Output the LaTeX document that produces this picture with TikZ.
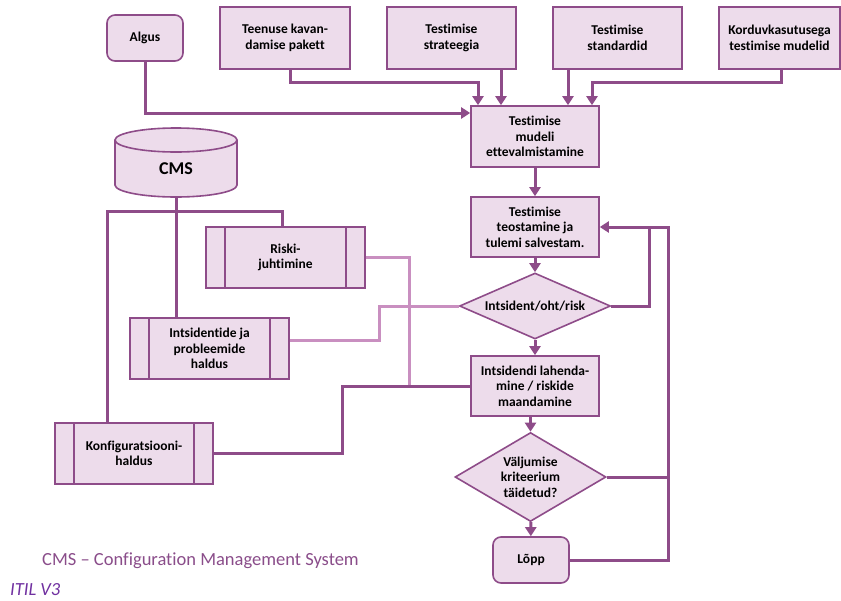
\documentclass[tikz,border=0pt]{standalone}
\usepackage{fontspec}
\setmainfont{Carlito}[Ligatures=NoCommon]
\usetikzlibrary{shapes.geometric,arrows.meta,calc}
\definecolor{lineC}{HTML}{8E4C89}
\definecolor{fillC}{HTML}{EDDCEB}
\definecolor{lightC}{HTML}{C98FC0}
\definecolor{noteC}{HTML}{8A4D8A}
\definecolor{itilC}{HTML}{7030A0}
\begin{document}
\begin{tikzpicture}[x=1pt,y=-1pt,
  base/.style={draw=lineC,fill=fillC,line width=1.6pt,inner sep=0pt,align=center,
    font=\fontsize{13.5}{15.5}\selectfont\bfseries},
  box/.style={base,rectangle},
  term/.style={base,rectangle,rounded corners=8pt,minimum width=76pt,minimum height=46pt},
  decide/.style={base,diamond},
  sub/.style={base,rectangle,minimum height=61pt},
  conn/.style={draw=lineC,line width=3pt},
  arr/.style={conn,-{Triangle[length=9pt,width=11pt]}},
  light/.style={draw=lightC,line width=3pt}]
\useasboundingbox (0,0) rectangle (841,600);

% input boxes
\node[term] (algus) at (145,38) {Algus};
\node[box,minimum width=130pt,minimum height=62pt] (teenus) at (285,38) {Teenuse kavan-\\damise pakett};
\node[box,minimum width=129pt,minimum height=62pt] (strat) at (451.5,38) {Testimise\\strateegia};
\node[box,minimum width=129pt,minimum height=62pt] (stand) at (617.5,38) {Testimise\\standardid};
\node[box,minimum width=121pt,minimum height=62pt] (kordu) at (779.5,38) {Korduvkasutusega\\testimise mudelid};

% main flow
\node[box,minimum width=128pt,minimum height=61pt] (mudel) at (535,136.5) {Testimise\\mudeli\\ettevalmistamine};
\node[box,minimum width=128pt,minimum height=60pt] (teost) at (535,227) {Testimise\\teostamine ja\\tulemi salvestam.};
\node[decide,aspect=2.29,minimum width=151pt,minimum height=66pt] (intsd) at (535,306) {Intsident/oht/risk};
\node[box,minimum width=128pt,minimum height=60pt] (lahend) at (535,386) {Intsidendi lahenda-\\mine / riskide\\maandamine};
\node[decide,aspect=1.7,minimum width=151pt,minimum height=89pt] (valj) at (530.5,477) {Väljumise\\kriteerium\\täidetud?};
\node[term] (lopp) at (531,560) {Lõpp};

% configuration management database
\fill[fillC] (115,140) -- (115,185) arc[start angle=180,end angle=360,x radius=61pt,y radius=12pt]
  -- (237,140) arc[start angle=0,end angle=180,x radius=61pt,y radius=12pt] -- cycle;
\draw[lineC,line width=1.6pt] (115,140) -- (115,185) arc[start angle=180,end angle=360,x radius=61pt,y radius=12pt]
  -- (237,140);
\draw[lineC,line width=1.6pt] (176,140) ellipse [x radius=61pt,y radius=12pt];
\node[font=\fontsize{18}{20}\selectfont\bfseries] (cms) at (176,169) {CMS};
\coordinate (cmsbot) at (176,197);

% processes
\node[sub,minimum width=159pt] (riski) at (285.5,257.5) {Riski-\\juhtimine};
\node[sub,minimum width=159pt] (intsp) at (209.5,348.5) {Intsidentide ja\\probleemide\\haldus};
\node[sub,minimum width=158pt] (konf) at (134,453.5) {Konfiguratsiooni-\\haldus};
\foreach \n in {riski,intsp,konf}{
  \draw[lineC,line width=1.6pt] ([xshift=20pt]\n.north west) -- ([xshift=20pt]\n.south west);
  \draw[lineC,line width=1.6pt] ([xshift=-20pt]\n.north east) -- ([xshift=-20pt]\n.south east);
}

% inputs into the model
\draw[arr] (algus.south) |- ([yshift=23.5pt]mudel.west);
\draw[arr] ([xshift=5pt]teenus.south) -- ++(0,13) -| ([xshift=-57pt]mudel.north);
\draw[arr] ([xshift=49.5pt]strat.south) -- ([xshift=-34pt]mudel.north);
\draw[arr] ([xshift=-49.5pt]stand.south) -- ([xshift=33pt]mudel.north);
\draw[arr] ([xshift=1.5pt]kordu.south) -- ++(0,13) -| ([xshift=57pt]mudel.north);

% main flow
\draw[arr] (mudel) -- (teost);
\draw[arr] (teost) -- (intsd);
\draw[arr] (intsd) -- (lahend);
\draw[arr] (valj.north |- lahend.south) -- (valj.north);
\draw[arr] (valj) -- (lopp);

% loops back to test execution
\coordinate (rr) at ([xshift=99pt]lopp.east);
\draw[arr] (intsd.east) -- ++(38,0) |- (teost.east);
\draw[conn] (lopp.east) -- (rr) |- ([xshift=46pt]teost.east);
\draw[conn] (valj.east) -- (rr |- valj.east);

% links to the supporting processes
\draw[light] (riski.east) -| ([xshift=-61pt]lahend.west);
\draw[light] ([yshift=8.5pt]intsp.east) -- ++(90,0) |- (intsd.west);
\draw[conn] (konf.east) -- ++(129,0) |- (lahend.west);

% CMS distribution
\draw[conn] (cmsbot) -- (cmsbot |- intsp.north);
\draw[conn] ([xshift=-3.5pt]riski.north) -- ++(0,-15) -| ([xshift=-27pt]konf.north);

% notes
\node[anchor=west,text=noteC,font=\fontsize{18.5}{22}\selectfont,inner sep=0pt] (note) at (42,561) {CMS – Configuration Management System};
\node[anchor=west,text=itilC,font=\fontsize{18.5}{22}\selectfont\itshape,inner sep=0pt] (itil) at (10,590) {ITIL V3};
\end{tikzpicture}
\end{document}
